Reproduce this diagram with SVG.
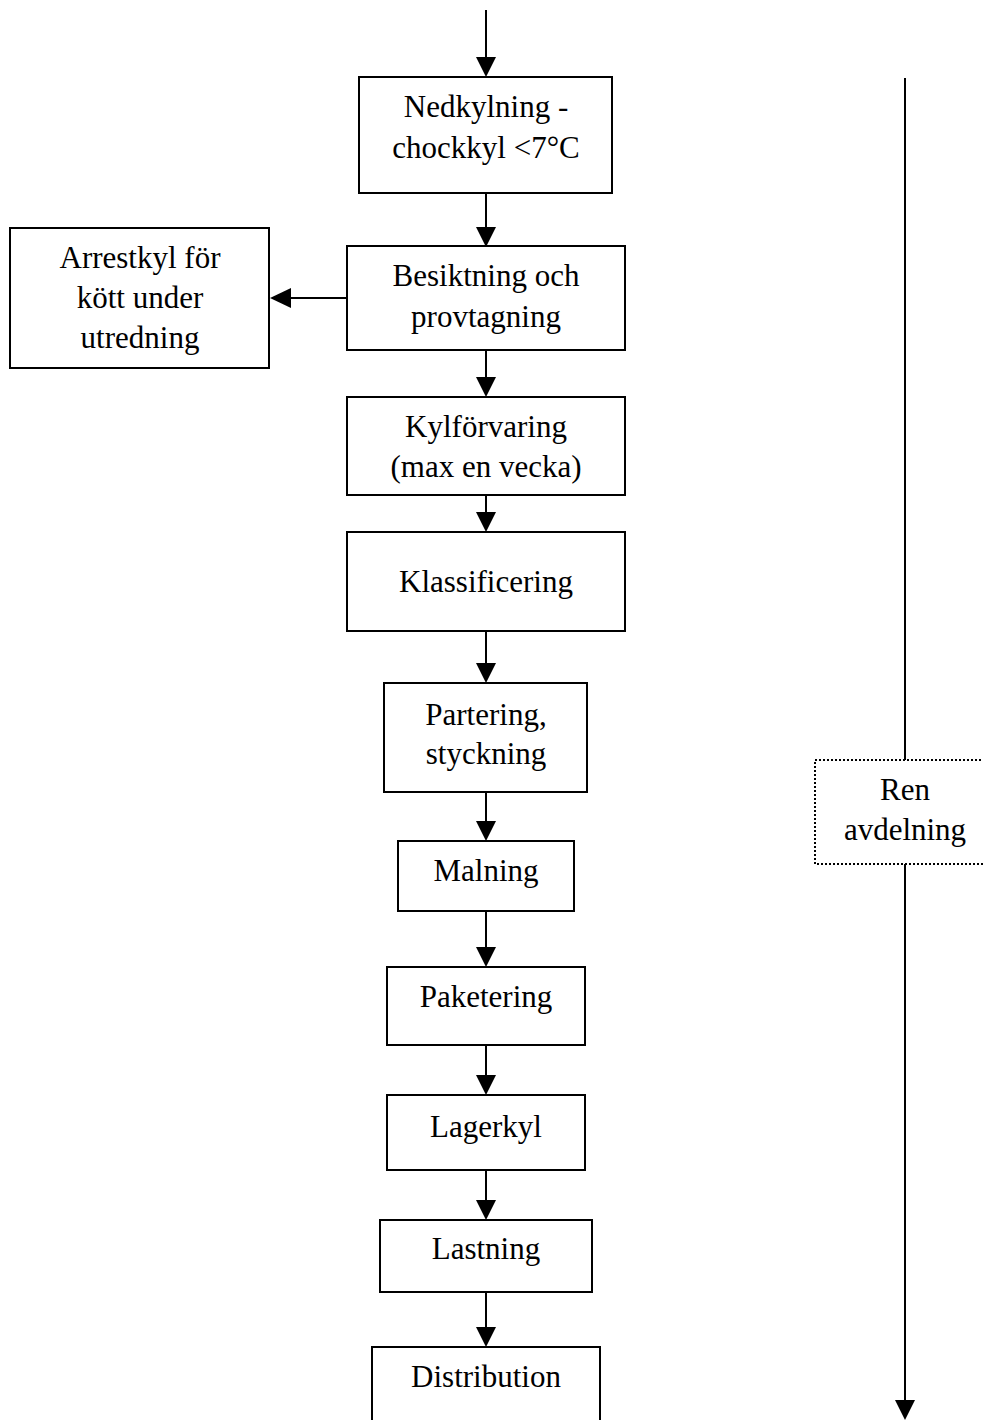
<svg xmlns="http://www.w3.org/2000/svg" width="983" height="1420" viewBox="0 0 983 1420">
  <style>
    .box { fill: #ffffff; stroke: #000000; stroke-width: 2; }
    .dotted { fill: #ffffff; stroke: #000000; stroke-width: 2; stroke-dasharray: 2 2; }
    .line { fill: none; stroke: #000000; stroke-width: 2; }
    .head { fill: #000000; stroke: none; }
    text { font-family: "Liberation Serif", "Times New Roman", serif; font-size: 31px; fill: #000000; text-anchor: middle; }
  </style>
  <rect width="983" height="1420" fill="#ffffff"/>

  <!-- connectors -->
  <g id="connectors">
    <!-- main flow, x = 486 -->
    <line class="line" x1="486" y1="10" x2="486" y2="60"/>
    <path class="head" d="M476,57 L496,57 L486,77 Z"/>
    <line class="line" x1="486" y1="193" x2="486" y2="230"/>
    <path class="head" d="M476,227 L496,227 L486,247 Z"/>
    <line class="line" x1="347" y1="298" x2="288" y2="298"/>
    <path class="head" d="M291,288 L291,308 L270,298 Z"/>
    <line class="line" x1="486" y1="350" x2="486" y2="380"/>
    <path class="head" d="M476,377 L496,377 L486,397 Z"/>
    <line class="line" x1="486" y1="495" x2="486" y2="515"/>
    <path class="head" d="M476,512 L496,512 L486,532 Z"/>
    <line class="line" x1="486" y1="631" x2="486" y2="666"/>
    <path class="head" d="M476,663 L496,663 L486,683 Z"/>
    <line class="line" x1="486" y1="792" x2="486" y2="824"/>
    <path class="head" d="M476,821 L496,821 L486,841 Z"/>
    <line class="line" x1="486" y1="911" x2="486" y2="950"/>
    <path class="head" d="M476,947 L496,947 L486,967 Z"/>
    <line class="line" x1="486" y1="1045" x2="486" y2="1078"/>
    <path class="head" d="M476,1075 L496,1075 L486,1095 Z"/>
    <line class="line" x1="486" y1="1170" x2="486" y2="1203"/>
    <path class="head" d="M476,1200 L496,1200 L486,1220 Z"/>
    <line class="line" x1="486" y1="1292" x2="486" y2="1330"/>
    <path class="head" d="M476,1327 L496,1327 L486,1347 Z"/>
    <!-- side zone marker -->
    <line class="line" x1="905" y1="78" x2="905" y2="760"/>
    <line class="line" x1="905" y1="864" x2="905" y2="1402"/>
    <path class="head" d="M895,1400 L915,1400 L905,1420 Z"/>
  </g>

  <g id="nedkylning">
    <rect class="box" x="359" y="77" width="253" height="116"/>
    <text x="486" y="117">Nedkylning -</text>
    <text x="486" y="158">chockkyl &lt;7°C</text>
  </g>

  <g id="arrestkyl">
    <rect class="box" x="10" y="228" width="259" height="140"/>
    <text x="140" y="268">Arrestkyl för</text>
    <text x="140" y="308">kött under</text>
    <text x="140" y="348">utredning</text>
  </g>

  <g id="besiktning">
    <rect class="box" x="347" y="246" width="278" height="104"/>
    <text x="486" y="286">Besiktning och</text>
    <text x="486" y="327">provtagning</text>
  </g>

  <g id="kylforvaring">
    <rect class="box" x="347" y="397" width="278" height="98"/>
    <text x="486" y="437">Kylförvaring</text>
    <text x="486" y="477">(max en vecka)</text>
  </g>

  <g id="klassificering">
    <rect class="box" x="347" y="532" width="278" height="99"/>
    <text x="486" y="592">Klassificering</text>
  </g>

  <g id="partering">
    <rect class="box" x="384" y="683" width="203" height="109"/>
    <text x="486" y="725">Partering,</text>
    <text x="486" y="764">styckning</text>
  </g>

  <g id="malning">
    <rect class="box" x="398" y="841" width="176" height="70"/>
    <text x="486" y="881">Malning</text>
  </g>

  <g id="paketering">
    <rect class="box" x="387" y="967" width="198" height="78"/>
    <text x="486" y="1007">Paketering</text>
  </g>

  <g id="lagerkyl">
    <rect class="box" x="387" y="1095" width="198" height="75"/>
    <text x="486" y="1137">Lagerkyl</text>
  </g>

  <g id="lastning">
    <rect class="box" x="380" y="1220" width="212" height="72"/>
    <text x="486" y="1259">Lastning</text>
  </g>

  <g id="distribution">
    <rect class="box" x="372" y="1347" width="228" height="90"/>
    <text x="486" y="1387">Distribution</text>
  </g>

  <g id="ren-avdelning">
    <rect class="dotted" x="815" y="760" width="180" height="104"/>
    <text x="905" y="800">Ren</text>
    <text x="905" y="840">avdelning</text>
  </g>
</svg>
